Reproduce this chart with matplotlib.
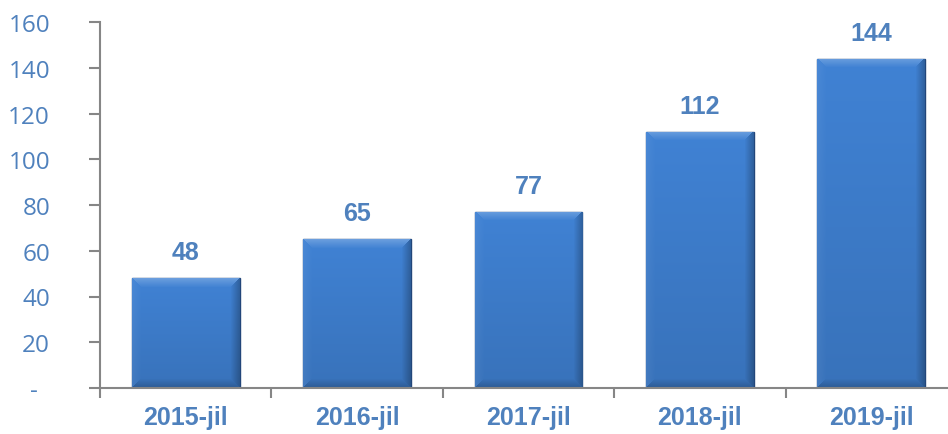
import matplotlib.pyplot as plt
import numpy as np

# Data
categories = ['2015-jil', '2016-jil', '2017-jil', '2018-jil', '2019-jil']
values = [48, 65, 77, 112, 144]
y_ticks = [0, 20, 40, 60, 80, 100, 120, 140, 160]
y_labels = ['-  ', '20', '40', '60', '80', '100', '120', '140', '160']

text_color = '#4F81BD'
axis_color = '#868686'

fig = plt.figure(figsize=(9.48, 4.35), dpi=100)
ax_h_px = 366
ax = fig.add_axes([100 / 948, 46 / 435, 857 / 948, ax_h_px / 435])

x = np.arange(len(categories))
bars = ax.bar(x, values, width=0.63, color='#3D78C6', edgecolor='#22467A',
              linewidth=1.0, zorder=2)


def bevel_image(h, w, bev=9):
    # bar face with a soft bevelled border, a bit darker at the bottom
    base = np.array([0x40, 0x82, 0xD4]) / 255
    img = np.tile(base, (h, w, 1))
    yy, xx = np.mgrid[0:h, 0:w]
    vert = 1 - 0.12 * (yy / max(h - 1, 1))
    img = img * vert[:, :, None]
    d_top = yy
    d_bot = h - 1 - yy
    d_left = xx
    d_right = w - 1 - xx
    dmin = np.minimum.reduce([d_top, d_bot, d_left, d_right])
    fall = np.clip(1 - dmin / bev, 0, 1)
    light = np.zeros((h, w))
    light[dmin == d_top] = 0.22
    light[dmin == d_left] = 0.05
    light[dmin == d_right] = -0.25
    light[dmin == d_bot] = -0.2
    f = (light * fall)[:, :, None]
    img = np.where(f > 0, img + (1 - img) * f, img * (1 + f))
    return np.clip(img, 0, 1)


for b in bars:
    bx, by = b.get_x(), b.get_y()
    bw, bh = b.get_width(), b.get_height()
    h_px = max(int(bh / 160 * ax_h_px), 20)
    im = ax.imshow(bevel_image(h_px, 108), extent=[bx, bx + bw, by, by + bh],
                   aspect='auto', zorder=2.5, interpolation='bilinear')
    im.set_clip_path(b)

for xi, v in zip(x, values):
    ax.annotate(str(v), (xi, v), xytext=(0, 10), textcoords='offset points',
                ha='center', va='bottom', fontsize=18, fontweight='bold',
                color=text_color, family='Liberation Sans')

ax.set_xlim(-0.5, len(categories) - 0.5)
ax.set_ylim(0, 160)
ax.set_yticks(y_ticks)
ax.set_yticklabels(y_labels, fontsize=17.5, color=text_color, family='Open Sans')
ax.set_xticks(x)
ax.set_xticklabels(categories, fontsize=18, fontweight='bold', color=text_color,
                   family='Liberation Sans')
ax.tick_params(axis='x', which='major', length=0, pad=12)
ax.set_xticks(np.arange(-0.5, len(categories)), minor=True)
ax.tick_params(axis='x', which='minor', length=7, width=1.5, color=axis_color)
ax.tick_params(axis='y', length=8, width=1.5, color=axis_color, pad=28)

for s in ['top', 'right']:
    ax.spines[s].set_visible(False)
for s in ['left', 'bottom']:
    ax.spines[s].set_color(axis_color)
    ax.spines[s].set_linewidth(1.5)

plt.savefig('out.png', dpi=100)
